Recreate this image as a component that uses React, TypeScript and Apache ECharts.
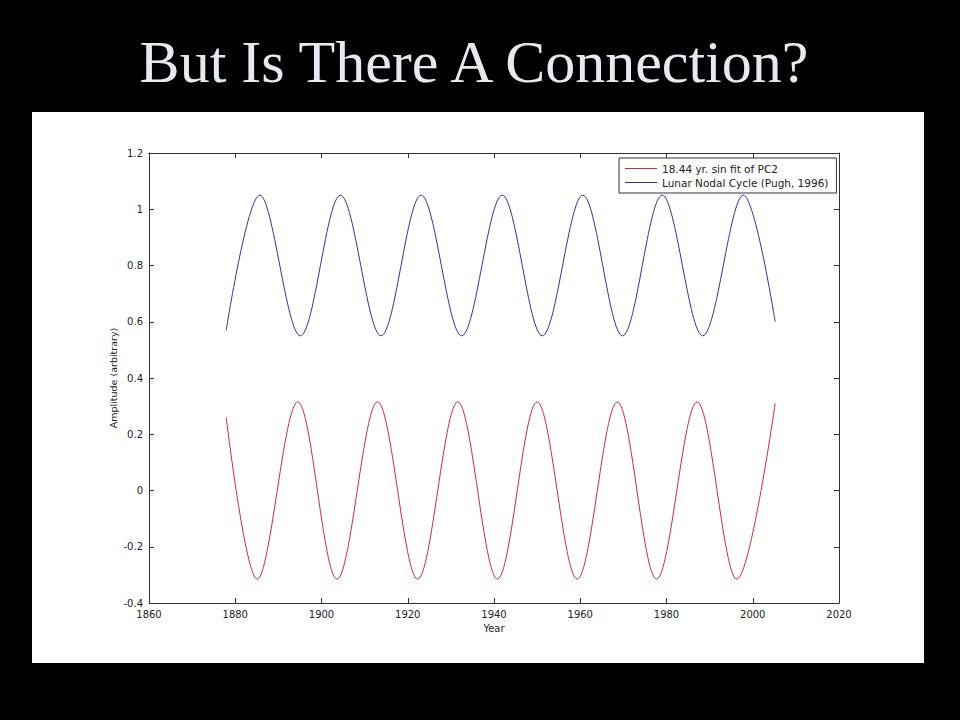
import React, { useEffect, useRef } from "react";
import * as echarts from "echarts";

const titleText = "But Is There A Connection?";
const seriesNames = ["18.44 yr. sin fit of PC2", "Lunar Nodal Cycle (Pugh, 1996)"];

// Red curve: start, troughs/peaks and end
const redYears = [
  1877.9, 1885.1, 1894.5, 1903.6, 1913.0, 1922.3, 1931.6, 1940.8,
  1950.0, 1959.3, 1968.6, 1977.7, 1987.1, 1996.3, 2005.2,
];
const redValues = [
  0.26, -0.315, 0.315, -0.315, 0.315, -0.315, 0.315, -0.315,
  0.315, -0.315, 0.315, -0.315, 0.315, -0.315, 0.31,
];

// Blue curve: start, peaks/troughs and end
const blueYears = [
  1877.9, 1885.7, 1895.1, 1904.4, 1913.8, 1923.1, 1932.5, 1941.9,
  1951.2, 1960.6, 1969.8, 1979.0, 1988.4, 1997.8, 2005.2,
];
const blueValues = [
  0.57, 1.05, 0.55, 1.05, 0.55, 1.05, 0.55, 1.05,
  0.55, 1.05, 0.55, 1.05, 0.55, 1.05, 0.6,
];

const FONT = "DejaVu Sans";

export default function App() {
  const ref = useRef<HTMLDivElement>(null);
  useEffect(() => {
    if (!ref.current) return;
    const chart = echarts.init(ref.current, null, { renderer: "svg" });
    const axisLine = { show: true, onZero: false, lineStyle: { color: "#333", width: 1 } };
    const tick = { show: true, inside: true, length: 5, lineStyle: { color: "#333" } };
    chart.setOption({
      animation: false,
      backgroundColor: "#000",
      graphic: [
        {
          type: "rect",
          shape: { x: 32, y: 112, width: 892, height: 551 },
          style: { fill: "#fff" },
          z: -10,
        },
        {
          type: "text",
          x: 474,
          y: 92,
          style: {
            text: titleText,
            font: "60px 'Liberation Serif', 'Times New Roman', serif",
            fill: "#e6eaf0",
            textAlign: "center",
            textVerticalAlign: "bottom",
          },
        },
      ],
      grid: { left: 149, top: 153, right: 121, bottom: 117, containLabel: false },
      legend: {
        data: seriesNames,
        orient: "vertical",
        left: 619,
        top: 158,
        icon: "rect",
        itemWidth: 32,
        itemHeight: 1,
        itemGap: 3,
        padding: [5, 8, 5, 6],
        borderColor: "#333",
        borderWidth: 1,
        borderRadius: 0,
        backgroundColor: "#fff",
        textStyle: { fontFamily: FONT, fontSize: 10.5, color: "#222", padding: [0, 0, 0, 0] },
      },
      xAxis: [
        {
          type: "value",
          min: 1860,
          max: 2020,
          interval: 20,
          name: "Year",
          nameLocation: "middle",
          nameGap: 20,
          nameMoveOverlap: false,
          nameTextStyle: { fontFamily: FONT, fontSize: 10, color: "#222" },
          axisLine,
          axisTick: tick,
          splitLine: { show: false },
          axisLabel: {
            fontFamily: FONT,
            fontSize: 10,
            color: "#222",
            margin: 6,
            formatter: (v: number) => String(v),
          },
        },
        {
          type: "value",
          position: "top",
          min: 1860,
          max: 2020,
          interval: 20,
          axisLine,
          axisTick: tick,
          splitLine: { show: false },
          axisLabel: { show: false },
        },
      ],
      yAxis: [
        {
          type: "value",
          min: -0.4,
          max: 1.2,
          interval: 0.2,
          name: "Amplitude (arbitrary)",
          nameLocation: "middle",
          nameGap: 31,
          nameMoveOverlap: false,
          nameRotate: 90,
          nameTextStyle: { fontFamily: FONT, fontSize: 9.5, color: "#222" },
          axisLine,
          axisTick: tick,
          splitLine: { show: false },
          axisLabel: { fontFamily: FONT, fontSize: 10, color: "#222", margin: 6 },
        },
        {
          type: "value",
          position: "right",
          min: -0.4,
          max: 1.2,
          interval: 0.2,
          axisLine,
          axisTick: tick,
          splitLine: { show: false },
          axisLabel: { show: false },
        },
      ],
      series: [
        {
          name: seriesNames[0],
          type: "line",
          data: redYears.map((y, i) => [y, redValues[i]]),
          smooth: 0.34,
          symbol: "none",
          lineStyle: { color: "#c4303f", width: 1 },
          itemStyle: { color: "#c4303f" },
        },
        {
          name: seriesNames[1],
          type: "line",
          data: blueYears.map((y, i) => [y, blueValues[i]]),
          smooth: 0.34,
          symbol: "none",
          lineStyle: { color: "#33339a", width: 1 },
          itemStyle: { color: "#33339a" },
        },
      ],
    });
    return () => chart.dispose();
  }, []);
  return (
    <div
      ref={ref}
      style={{ position: "fixed", left: 0, top: 0, width: 960, height: 720 }}
    />
  );
}
